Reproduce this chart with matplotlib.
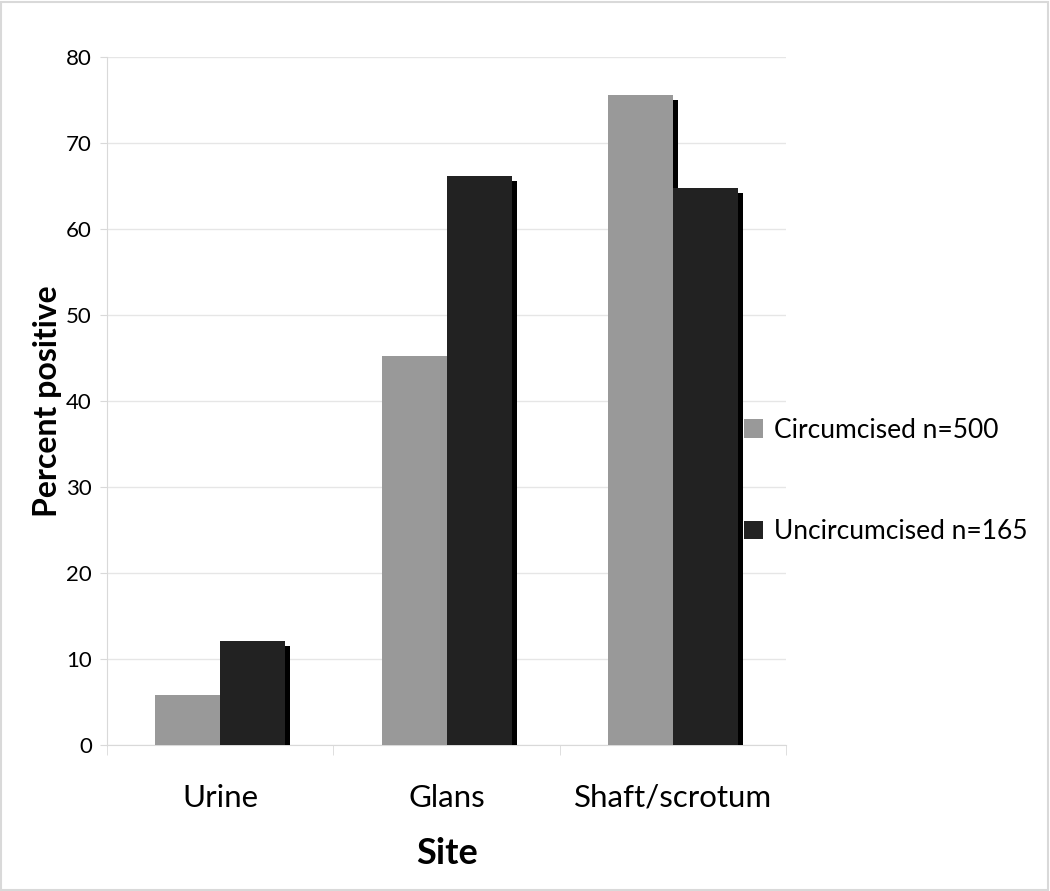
import matplotlib
matplotlib.use("Agg")
import matplotlib.pyplot as plt
import matplotlib.patheffects as pe
from matplotlib.patches import Patch
import numpy as np

sites = ["Urine", "Glans", "Shaft/scrotum"]
circumcised = [5.8, 45.2, 75.6]
uncircumcised = [12.1, 66.1, 64.8]
series_labels = ["Circumcised n=500", "Uncircumcised n=165"]
y_ticks = [0, 10, 20, 30, 40, 50, 60, 70, 80]

plt.rcParams["font.family"] = ["Lato", "DejaVu Sans"]

fig = plt.figure(figsize=(10.5, 8.91), dpi=100)
ax = fig.add_axes([0.102, 0.1639, 0.6467, 0.7722])

x = np.arange(len(sites))
w = 0.2875
colors = ["#999999", "#222222"]


def shadow():
    return [pe.SimplePatchShadow(offset=(3.5, -3.5), shadow_rgbFace="black", alpha=1.0), pe.Normal()]


# gray first, dark on top so the dark bars cover the gray shadow where they touch
b1 = ax.bar(x - w / 2, circumcised, w, color=colors[0], zorder=3)
b2 = ax.bar(x + w / 2, uncircumcised, w, color=colors[1], zorder=4)
for bar in list(b1) + list(b2):
    bar.set_path_effects(shadow())

ax.set_xlim(-0.5, len(sites) - 0.5)
ax.set_ylim(0, 80)
ax.set_yticks(y_ticks)
ax.set_yticklabels([str(v) for v in y_ticks], fontsize=16)
ax.set_xticks(x)
ax.set_xticklabels(sites, fontsize=22.5)
ax.set_xticks(np.arange(-0.5, len(sites)), minor=True)
ax.tick_params(axis="x", which="major", length=0, pad=28)
ax.tick_params(axis="x", which="minor", length=7, color="#d9d9d9")
ax.tick_params(axis="y", length=5, color="#d9d9d9", pad=6)

ax.grid(axis="y", color="#e6e6e6", linewidth=1.0, zorder=0)
ax.set_axisbelow(True)
for side in ["top", "right"]:
    ax.spines[side].set_visible(False)
for side in ["left", "bottom"]:
    ax.spines[side].set_color("#d9d9d9")

ax.set_ylabel("Percent positive", fontsize=23, fontweight="bold", labelpad=3)
ax.set_xlabel("Site", fontsize=26, fontweight="bold", labelpad=18)

handles = [Patch(facecolor=c) for c in colors]
fig.legend(handles, series_labels, loc="center left", bbox_to_anchor=(0.686, 0.46),
           frameon=False, fontsize=19, handlelength=0.7, handleheight=0.7,
           handletextpad=0.45, labelspacing=2.9)

fig.patches.append(plt.Rectangle((0.001, 0.001), 0.997, 0.997, transform=fig.transFigure,
                                 fill=False, edgecolor="#d9d9d9", linewidth=1.5))

fig.savefig("out.png", dpi=100, facecolor="white")
